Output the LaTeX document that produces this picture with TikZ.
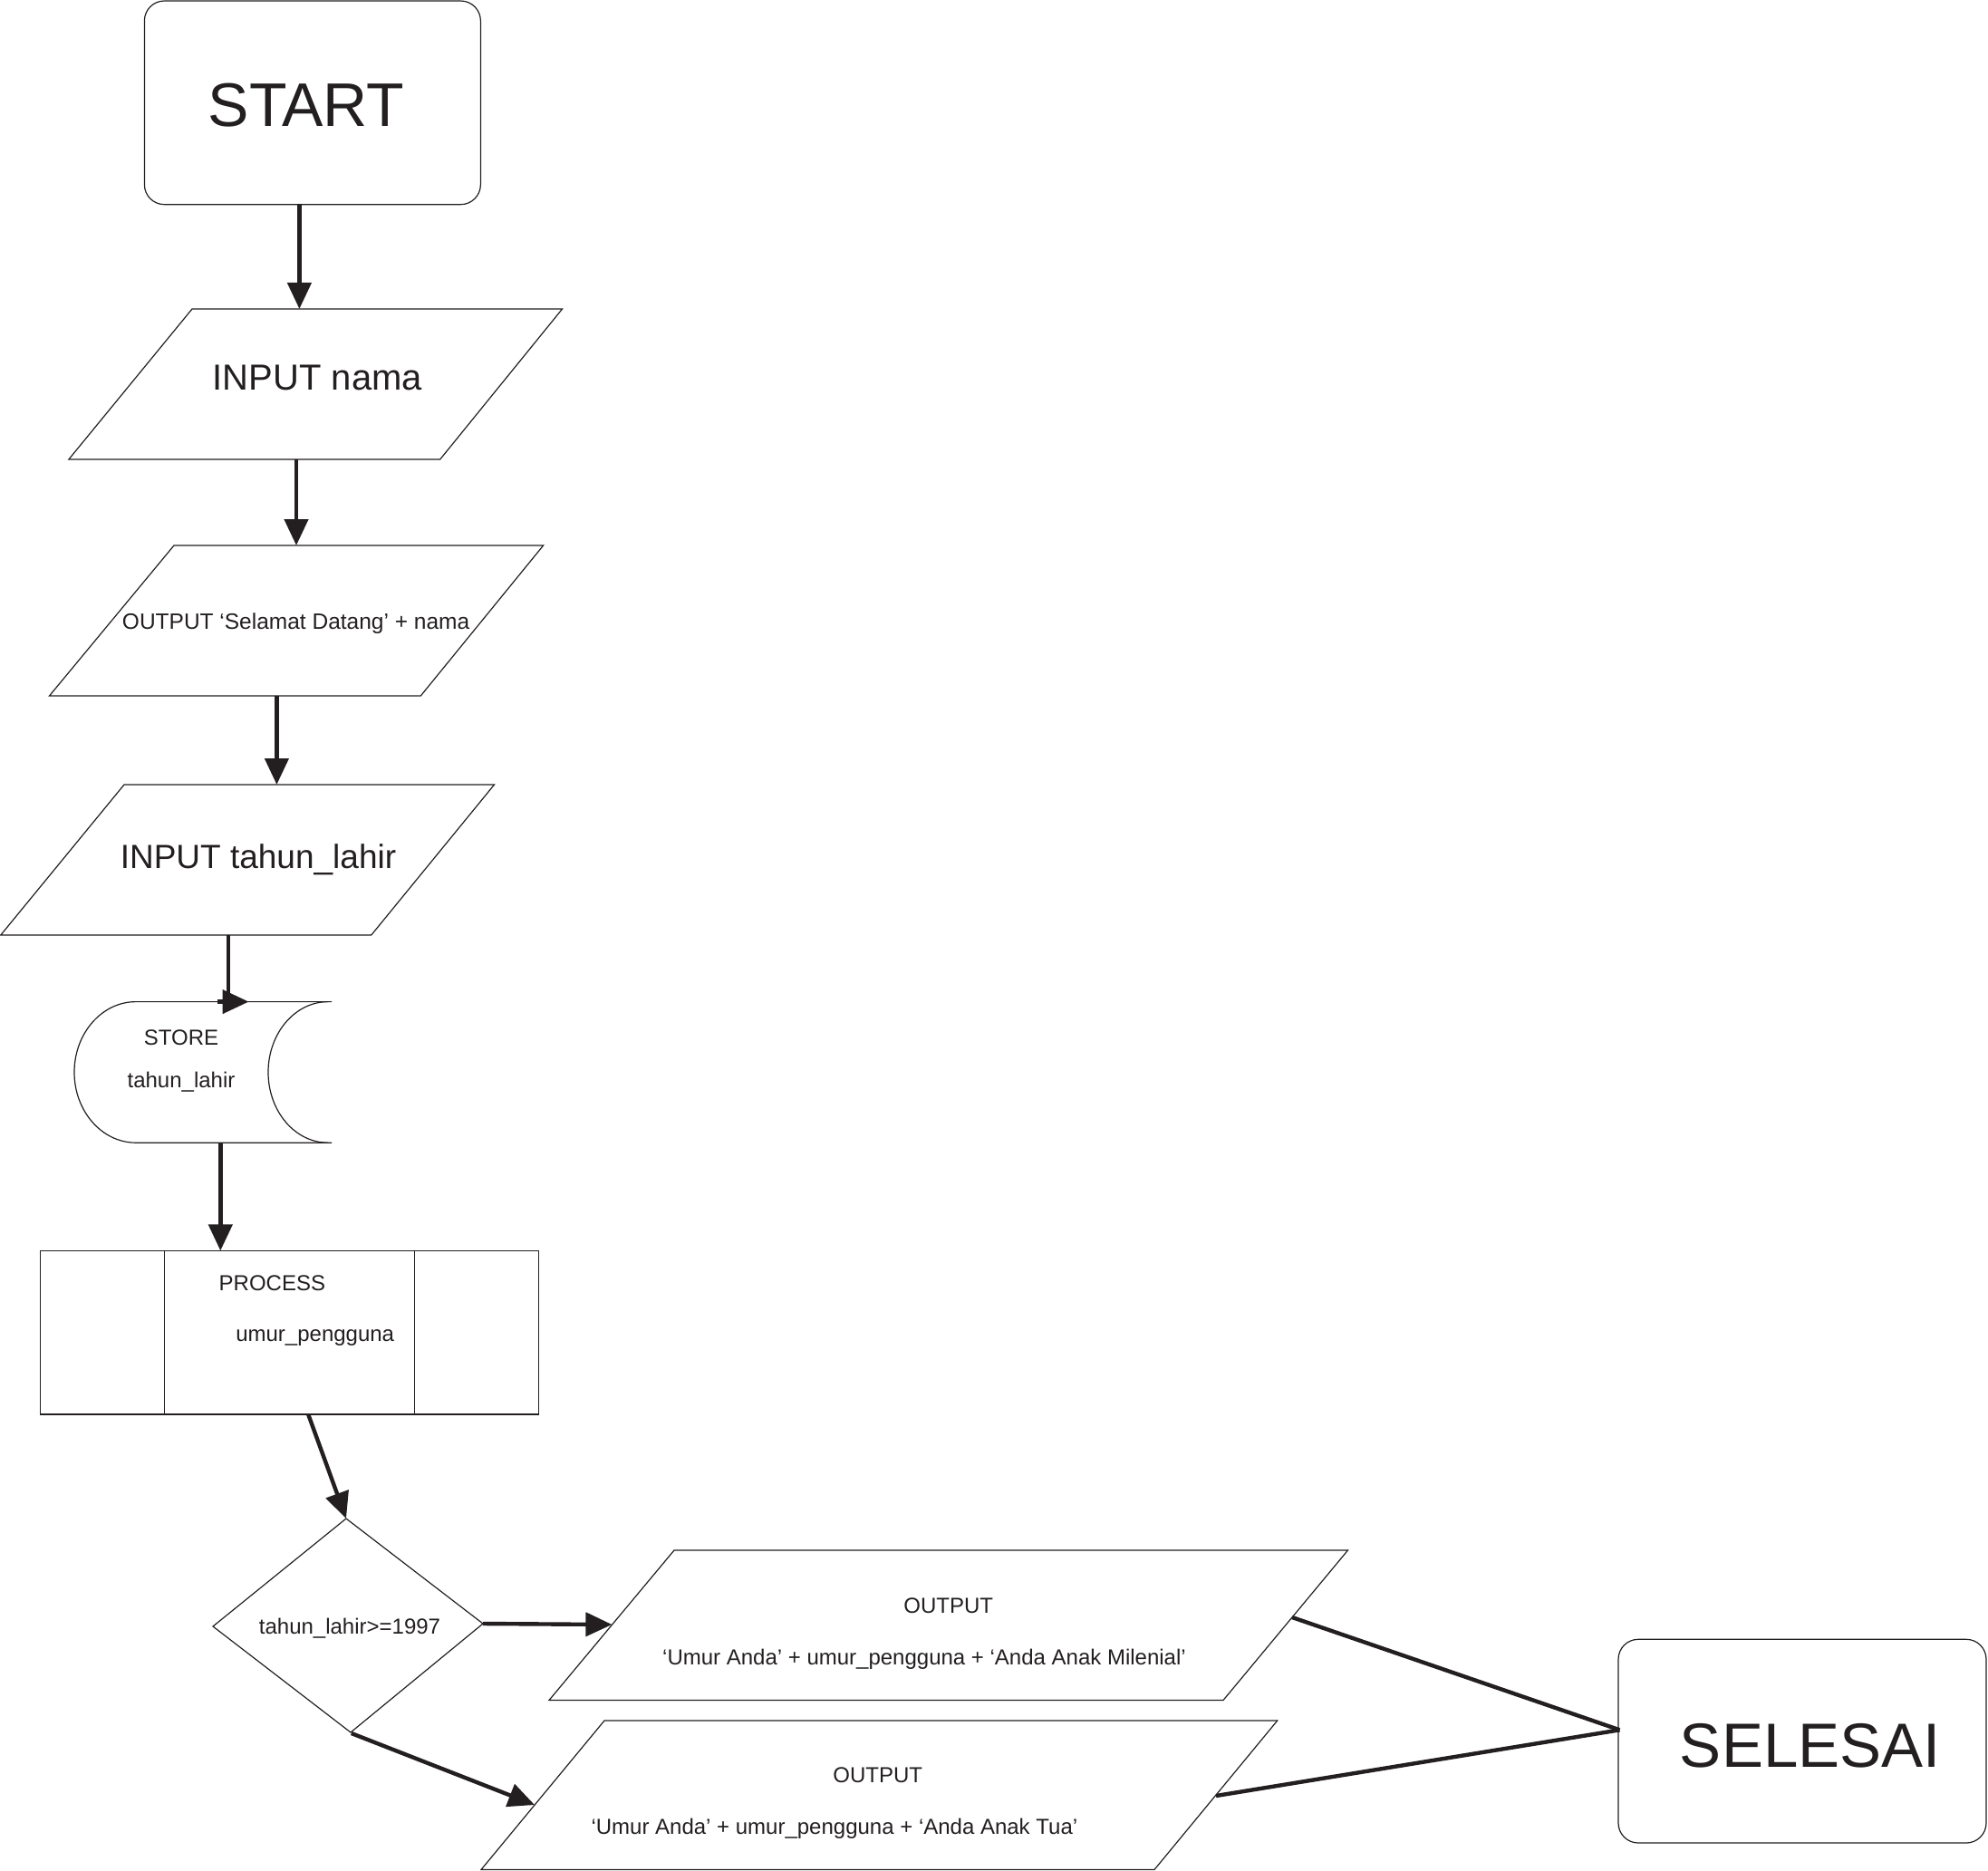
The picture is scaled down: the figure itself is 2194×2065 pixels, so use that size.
\documentclass[tikz,border=0pt]{standalone}
\usepackage{fontspec}
\setmainfont{Liberation Sans}
\usetikzlibrary{arrows.meta}
\definecolor{ink}{HTML}{231F20}
\begin{document}
\begin{tikzpicture}[x=0.5pt,y=-0.5pt,
  outl/.style={draw=ink,line width=0.6pt},
  arr/.style={draw=ink,line width=2.2pt,-{Triangle[length=14.5pt,width=13pt]}},
  conn/.style={draw=ink,line width=2.2pt},
  txt/.style={inner sep=0pt,anchor=base,text=ink},
  big/.style={txt,font=\fontsize{34}{40}\selectfont},
  small/.style={txt,font=\fontsize{12}{14}\selectfont}]
\useasboundingbox (0,0) rectangle (2194,2065);

% ---------- shapes ----------
\draw[outl,rounded corners=11pt] (159.4,1) rectangle (530.4,225.7);
\draw[outl] (212,341) -- (620.5,341) -- (485.7,507) -- (75.9,507) -- cycle;
\draw[outl] (192,602) -- (599.6,602) -- (464.3,768) -- (54.5,768) -- cycle;
\draw[outl] (137,866) -- (545.5,866) -- (409.8,1032) -- (0.8,1032) -- cycle;
% store
\draw[outl] (366,1105.6) -- (150,1105.6)
  arc[start angle=270,end angle=90,x radius=68,y radius=77.8] -- (366,1261.2);
\draw[outl] (362,1105.6) arc[start angle=270,end angle=90,x radius=66,y radius=77.8];
% process
\draw[outl] (44.6,1380.4) rectangle (594.6,1561);
\draw[outl] (181.3,1380.4) -- (181.3,1561);
\draw[outl] (457.6,1380.4) -- (457.6,1561);
% decision
\draw[outl] (382,1676) -- (533,1792) -- (387,1912) -- (235,1795) -- cycle;
% outputs
\draw[outl] (744,1711) -- (1487.5,1711) -- (1350,1876.5) -- (606,1876.5) -- cycle;
\draw[outl] (667,1899) -- (1409.7,1899) -- (1274,2063.5) -- (531,2063.5) -- cycle;
% end
\draw[outl,rounded corners=11pt] (1786,1809.3) rectangle (2192,2034);

% ---------- texts ----------
\node[big] (tstart) at (338,140) {START};
\node[txt,font=\fontsize{20}{24}\selectfont] (tnama) at (350.4,430) {INPUT nama};
\node[txt,font=\fontsize{12.25}{14}\selectfont] (tout) at (326.6,694) {OUTPUT ‘Selamat Datang’ + nama};
\node[txt,font=\fontsize{18.5}{22}\selectfont] (ttahun) at (285,958) {INPUT tahun\_lahir};
\node[small] (tstore) at (200,1153.5) {STORE};
\node[small] (tstore2) at (200,1200.5) {tahun\_lahir};
\node[small] (tproc) at (300.4,1424) {PROCESS};
\node[small] (tproc2) at (347.7,1480) {umur\_pengguna};
\node[small] (tdec) at (386,1803) {tahun\_lahir>=1997};
\node[small] (to1) at (1046.8,1780) {OUTPUT};
\node[small] (to1b) at (1020,1837) {‘Umur Anda’ + umur\_pengguna + ‘Anda Anak Milenial’};
\node[small] (to2) at (968.7,1967) {OUTPUT};
\node[small] (to2b) at (920.9,2024) {‘Umur Anda’ + umur\_pengguna + ‘Anda Anak Tua’};
\node[txt,font=\fontsize{34.5}{40}\selectfont] (tend) at (1997.8,1950) {SELESAI};

% ---------- connection points ----------
\coordinate (startS) at (330.4,225.7);
\coordinate (namaN) at (330.4,341);
\coordinate (namaS) at (327,507);
\coordinate (outN) at (327,602);
\coordinate (outS) at (305.4,768);
\coordinate (tahunN) at (305.4,866);
\coordinate (tahunS) at (252,1032);
\coordinate (bend) at (252,1105.6);
\coordinate (headbase) at (240,1105.6);
\coordinate (storeN) at (274.5,1105.6);
\coordinate (storeS) at (243.3,1261);
\coordinate (procN) at (243.3,1380.4);
\coordinate (procS) at (340.2,1561);
\coordinate (decN) at (382,1676);
\coordinate (decE) at (533,1792);
\coordinate (decS) at (387.8,1913);
\coordinate (o1W) at (675.4,1793);
\coordinate (o2W) at (590,1992);
\coordinate (o1E) at (1426,1785);
\coordinate (o2E) at (1342,1982);
\coordinate (endW) at (1787.5,1909.3);

% ---------- connectors ----------
\draw[arr] (startS) -- (namaN);
\draw[arr] (namaS) -- (outN);
\draw[arr] (outS) -- (tahunN);
\draw[conn] (tahunS) -- (bend);
\draw[arr] (headbase) -- (storeN);
\draw[arr] (storeS) -- (procN);
\draw[arr] (procS) -- (decN);
\draw[arr] (decE) -- (o1W);
\draw[arr] (decS) -- (o2W);
\draw[conn] (o1E) -- (endW);
\draw[conn] (o2E) -- (endW);
\end{tikzpicture}
\end{document}
